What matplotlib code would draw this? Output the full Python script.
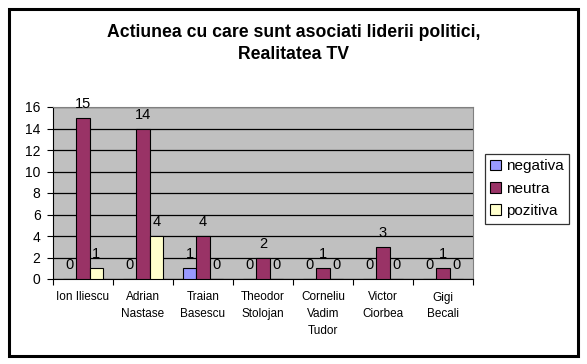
import matplotlib
matplotlib.use("Agg")
import matplotlib.pyplot as plt
from matplotlib.patches import Rectangle, Patch
import numpy as np

plt.rcParams['font.family'] = ['Liberation Sans', 'DejaVu Sans']

categories = ["Ion Iliescu", "Adrian\nNastase", "Traian\nBasescu", "Theodor\nStolojan",
              "Corneliu\nVadim\nTudor", "Victor\nCiorbea", "Gigi\nBecali"]
series_names = ["negativa", "neutra", "pozitiva"]
negativa = [0, 0, 1, 0, 0, 0, 0]
neutra = [15, 14, 4, 2, 1, 3, 1]
pozitiva = [1, 4, 0, 0, 0, 0, 0]
colors = ["#9999FF", "#993366", "#FFFFCC"]
title = "Actiunea cu care sunt asociati liderii politici,\nRealitatea TV"

W, H = 587, 364
fig = plt.figure(figsize=(W / 100, H / 100), dpi=100)
fig.patch.set_facecolor("white")

# outer frame
fig.add_artist(Rectangle((8.5 / W, 1 - 355.5 / H), (577.5 - 8.5) / W, (355.5 - 8.5) / H,
                         transform=fig.transFigure, fill=False, edgecolor="black",
                         linewidth=2.2, joinstyle="miter"))

ax = fig.add_axes([53 / W, 1 - 279 / H, (473 - 53) / W, (279 - 107) / H])
ax.set_facecolor("#C0C0C0")

x = np.arange(len(categories))
bw = 1 / 4.5
series = [negativa, neutra, pozitiva]
for i, (vals, c, name) in enumerate(zip(series, colors, series_names)):
    pos = x + (i - 1) * bw
    ax.bar(pos, vals, width=bw, color=c, edgecolor="black", linewidth=0.8, label=name, zorder=3)
    for px, v in zip(pos, vals):
        ax.annotate(str(v), (px, v), xytext=(0, 5), textcoords="offset points",
                    ha="center", va="bottom", fontsize=10.5, color="black", zorder=4)

ax.set_xlim(-0.5, len(categories) - 0.5)
ax.set_ylim(0, 16)
ax.set_yticks(range(0, 17, 2))
ax.yaxis.grid(True, color="black", linewidth=0.9, zorder=1)
ax.set_axisbelow(True)
ax.tick_params(axis="y", labelsize=10, length=4, width=0.8, pad=5, direction="out")

ax.set_xticks(x)
ax.set_xticklabels(categories, fontsize=8.5, linespacing=1.55)
ax.set_xticks(np.arange(-0.5, len(categories), 1), minor=True)
ax.tick_params(axis="x", which="major", length=0, pad=9)
ax.tick_params(axis="x", which="minor", length=4, width=0.8, direction="out")

for s in ["top", "right"]:
    ax.spines[s].set_color("#808080")
    ax.spines[s].set_linewidth(0.8)
for s in ["left", "bottom"]:
    ax.spines[s].set_color("black")
    ax.spines[s].set_linewidth(0.8)

fig.text(0.5, 1 - 43.5 / H, title, ha="center", va="center", fontsize=12.7,
         fontweight="bold", linespacing=1.42)

handles = [Patch(facecolor=c, edgecolor="black", linewidth=0.8) for c in colors]
leg = fig.legend(handles, series_names, loc="upper left",
                 bbox_to_anchor=(485 / W, 1 - 154 / H), bbox_transform=fig.transFigure,
                 fontsize=11, frameon=True, fancybox=False, shadow=False,
                 handlelength=0.7, handleheight=0.7, handletextpad=0.3,
                 labelspacing=0.55, borderpad=0.35, borderaxespad=0)
leg.get_frame().set_edgecolor("black")
leg.get_frame().set_linewidth(0.9)

fig.savefig("out.png", dpi=100, facecolor="white")
